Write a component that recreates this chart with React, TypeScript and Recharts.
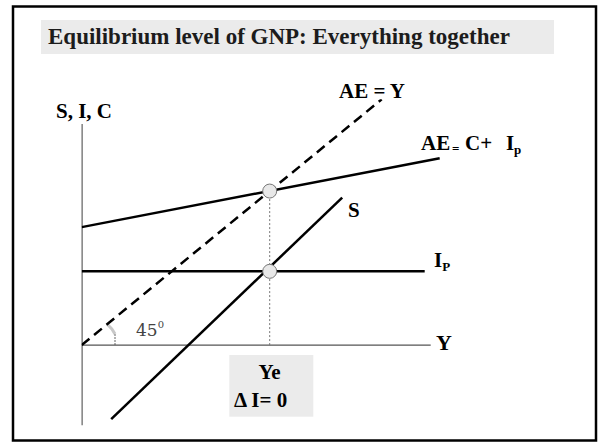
import React from "react";
import { LineChart, Line, XAxis, YAxis, ReferenceDot, Customized } from "recharts";

// Economic diagram data (x: income Y, y: S / I / C / AE), in model units
const aeEqualsY = [{ x: 0, y: 0 }, { x: 30, y: 30 }];
const aggregateExpenditure = [{ x: 0, y: 14.4 }, { x: 35.8, y: 22.8 }];
const plannedInvestment = [{ x: 0, y: 9 }, { x: 34.3, y: 9 }];
const saving = [{ x: 2.95, y: -9.05 }, { x: 26.05, y: 18.0 }];
const verticalAxis = [{ x: 0, y: -9.8 }, { x: 0, y: 27 }];
const horizontalAxis = [{ x: 0, y: 0 }, { x: 34.9, y: 0 }];
const equilibriumGuide = [{ x: 18.8, y: 0 }, { x: 18.8, y: 18.8 }];
const equilibriumPoints = [{ x: 18.8, y: 18.8 }, { x: 18.8, y: 9 }];

const FONT = "Liberation Serif";
const REG = "DejaVu Serif";

const Decorations = () => (
  <g>
    <rect x={13} y={6.5} width={583} height={434} fill="none" stroke="#000" strokeWidth={2.5} />
    <rect x={41} y={20} width={513} height={34} fill="#ebebeb" />
    <text x={48} y={44} fontSize={23} fill="#1c1c1c" fontWeight="bold" style={{ fontFamily: FONT }}>Equilibrium level of GNP: Everything together</text>

    <text x={56} y={118} fontSize={21} fontWeight="bold" style={{ fontFamily: FONT }}>S, I, C</text>
    <text x={339} y={98} fontSize={21} fontWeight="bold" style={{ fontFamily: FONT }}>AE = Y</text>
    <text y={150} fontSize={21} fontWeight="bold" style={{ fontFamily: FONT }}>
      <tspan x={421}>AE</tspan>
      <tspan x={452} fontSize={13} dy={3}>=</tspan>
      <tspan x={465} dy={-3}>C+</tspan>
      <tspan x={506}>I</tspan>
      <tspan x={514} fontSize={13} dy={4}>p</tspan>
    </text>
    <text x={348} y={217} fontSize={21} fontWeight="bold" style={{ fontFamily: FONT }}>S</text>
    <text x={434} y={267} fontSize={21} fontWeight="bold" style={{ fontFamily: FONT }}>
      I<tspan fontSize={13} dy={4}>P</tspan>
    </text>
    <text x={436} y={350} fontSize={22} fontWeight="bold" style={{ fontFamily: FONT }}>Y</text>

    <path d="M107.2,324.1 A33,33 0 0 1 115,334" fill="none" stroke="#c8c8c8" strokeWidth={3} />
    <line x1={115} y1={334} x2={115} y2={345} stroke="#666" strokeWidth={1} strokeDasharray="2 1" />
    <text x={136} y={336} fontSize={17} fill="#444" style={{ fontFamily: REG }}>
      45<tspan fontSize={10} dy={-8}>0</tspan>
    </text>

    <rect x={229.3} y={355} width={84} height={61.7} fill="#ebebeb" />
    <text x={269.5} y={379} fontSize={21} fontWeight="bold" textAnchor="middle" style={{ fontFamily: FONT }}>Ye</text>
    <text x={234} y={407} fontSize={21} fontWeight="bold" style={{ fontFamily: FONT }}>Δ I= 0</text>
  </g>
);

export default function App() {
  return (
    <div style={{ position: "absolute", left: 0, top: 0, width: 602, height: 444, background: "#fff" }}>
      <LineChart width={602} height={444} margin={{ top: 99.3, right: 150.3, bottom: 17, left: 81.7 }}>
        <XAxis type="number" dataKey="x" domain={[0, 37]} hide allowDataOverflow />
        <YAxis type="number" dataKey="y" domain={[-10, 30]} hide allowDataOverflow />
        <Customized component={<Decorations />} />
        <Line data={verticalAxis} dataKey="y" stroke="#000" strokeWidth={1.5} dot={false} isAnimationActive={false} />
        <Line data={horizontalAxis} dataKey="y" stroke="#555" strokeWidth={1.2} dot={false} isAnimationActive={false} />
        <Line data={equilibriumGuide} dataKey="y" stroke="#777" strokeWidth={1} strokeDasharray="2 2" dot={false} isAnimationActive={false} />
        <Line data={aeEqualsY} dataKey="y" stroke="#000" strokeWidth={2.5} strokeDasharray="10 6" dot={false} isAnimationActive={false} />
        <Line data={aggregateExpenditure} dataKey="y" stroke="#000" strokeWidth={2.5} dot={false} isAnimationActive={false} />
        <Line data={plannedInvestment} dataKey="y" stroke="#000" strokeWidth={2.5} dot={false} isAnimationActive={false} />
        <Line data={saving} dataKey="y" stroke="#000" strokeWidth={2.5} dot={false} isAnimationActive={false} />
        {equilibriumPoints.map((p, i) => (
          <ReferenceDot key={i} x={p.x} y={p.y} r={7} fill="#e8e8e8" stroke="#777" strokeWidth={1} isFront />
        ))}
      </LineChart>
    </div>
  );
}
